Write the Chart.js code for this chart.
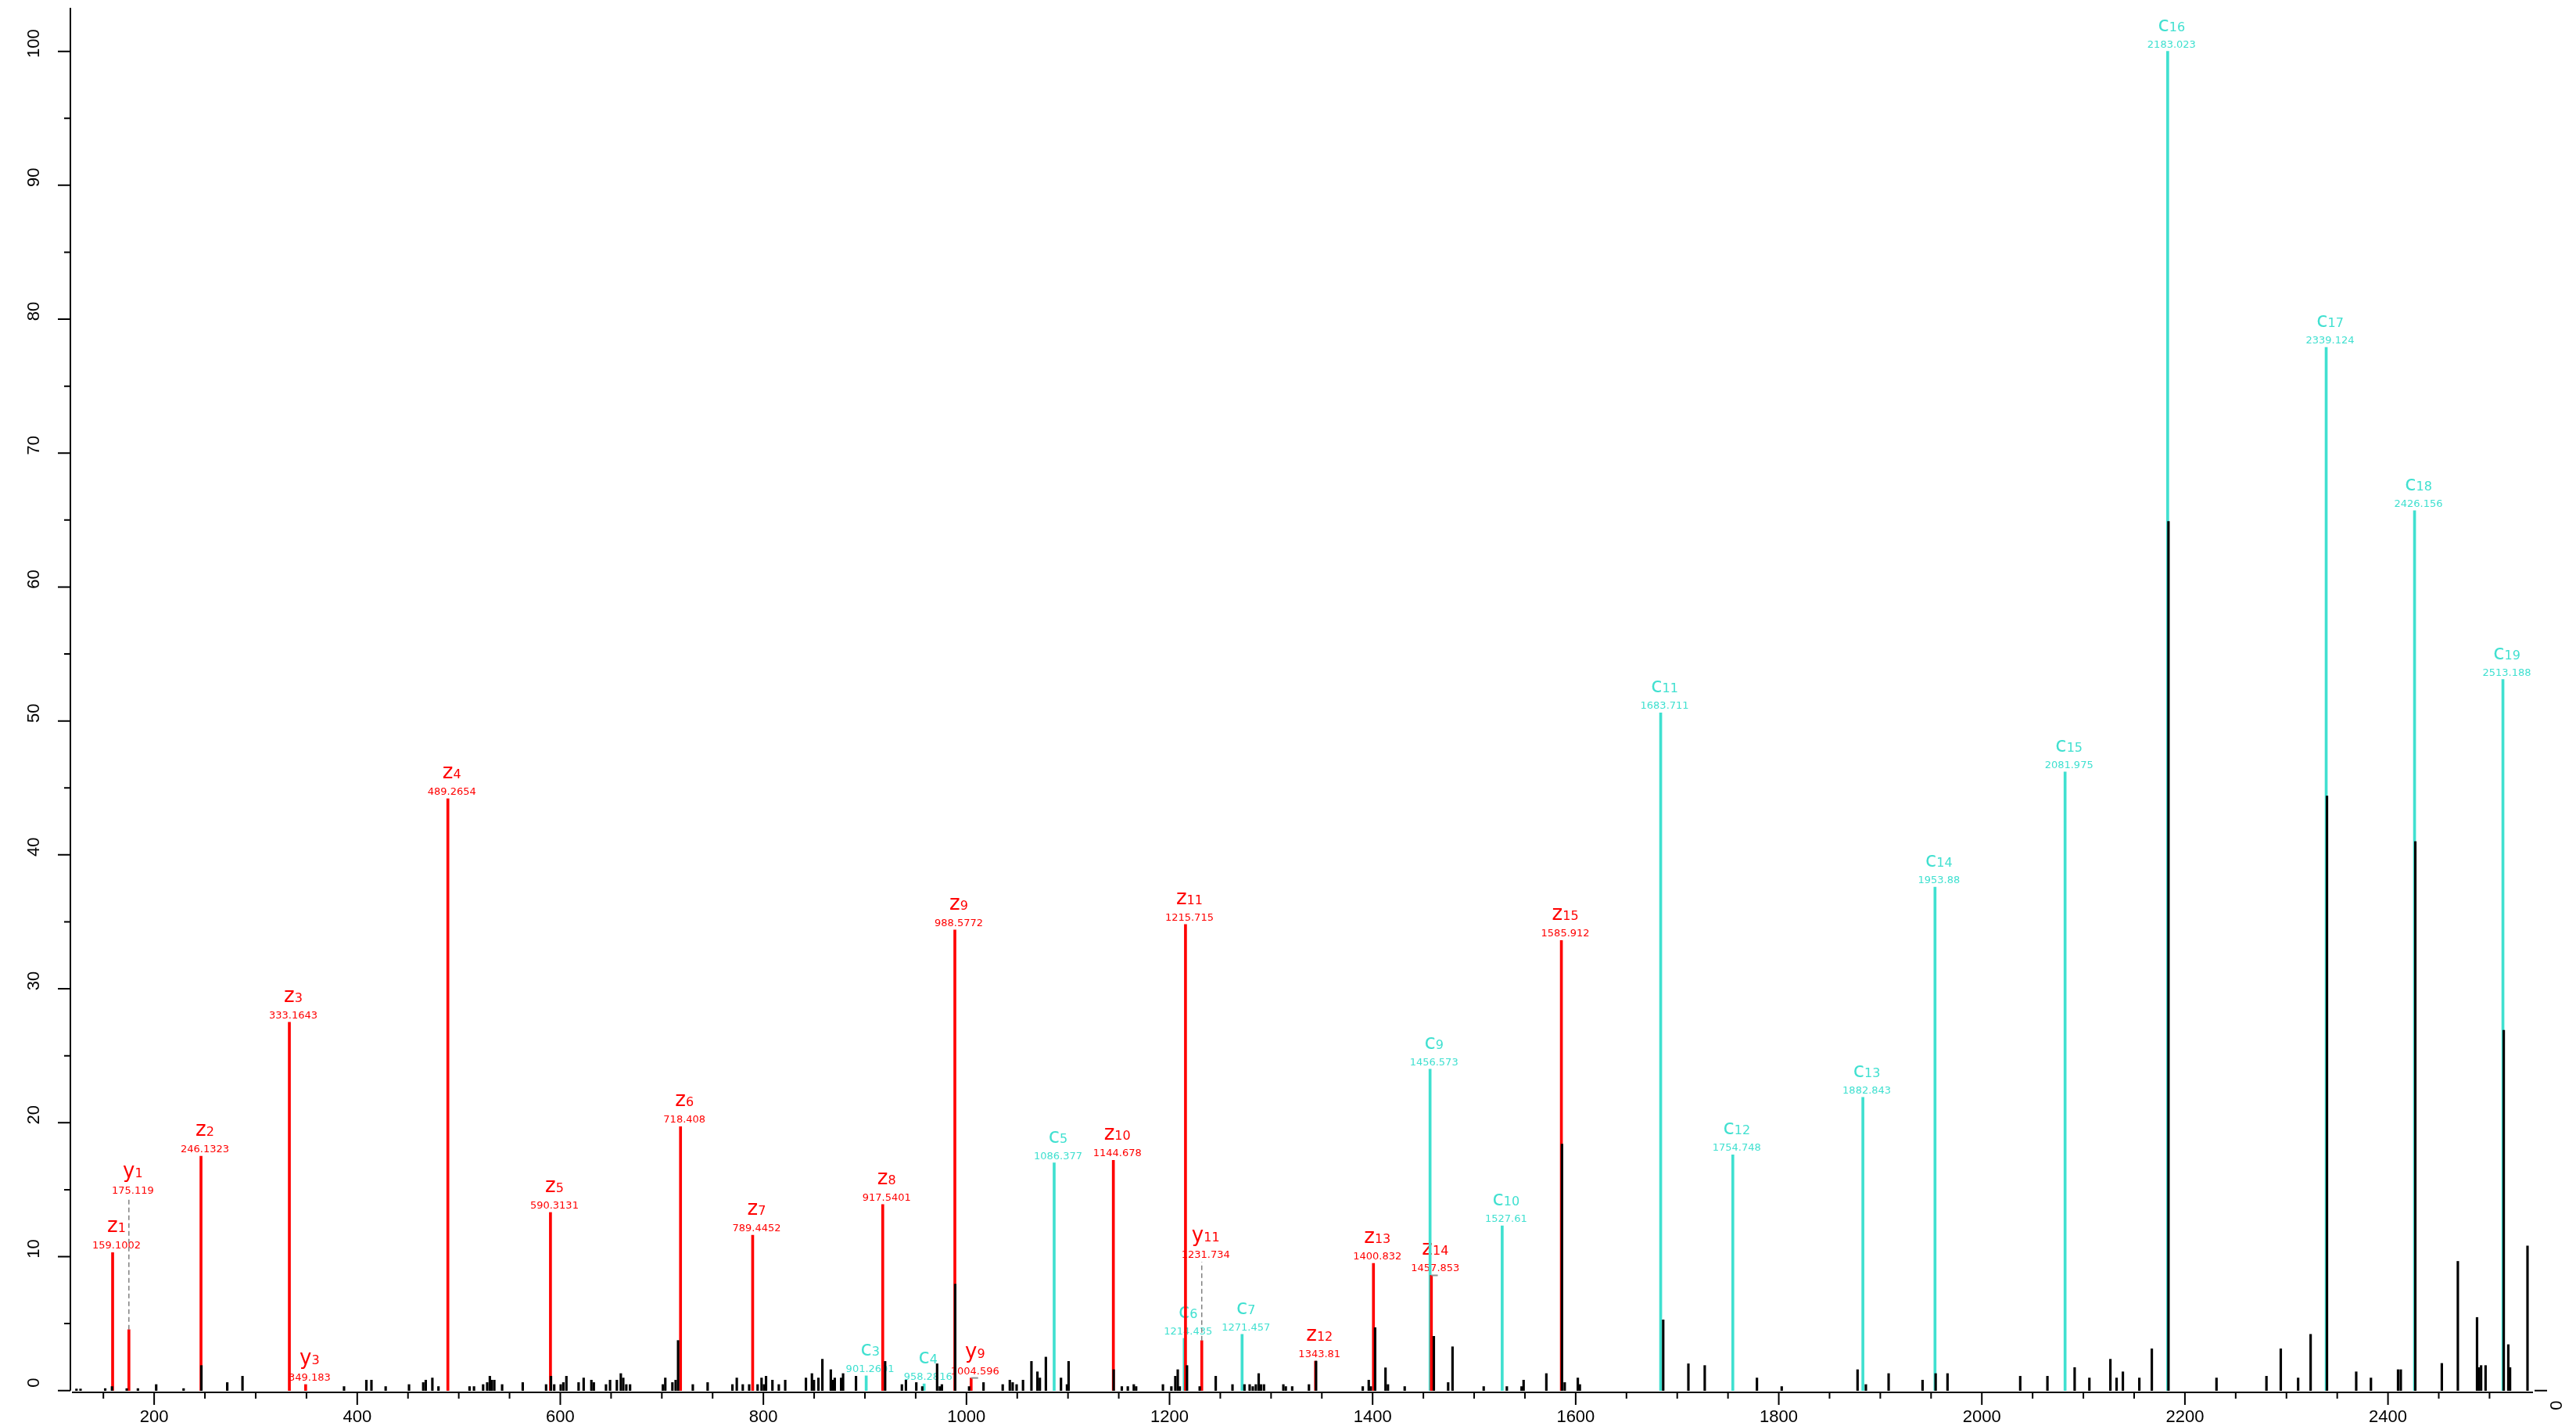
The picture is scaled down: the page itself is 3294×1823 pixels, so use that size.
<!DOCTYPE html>
<html>
<head>
<meta charset="utf-8">
<title>Annotated MS/MS spectrum</title>
<script src="https://cdn.jsdelivr.net/npm/chart.js@4.4.0/dist/chart.umd.min.js"></script>
<style>
  html, body { margin: 0; padding: 0; background: #fff; overflow: hidden; }
  canvas { display: block; }
</style>
</head>
<body>
<canvas id="spectrum" width="3294" height="1823"></canvas>
<script>
"use strict";

// z / y ions (red)
const zyNames = ["z1", "y1", "z2", "z3", "y3", "z4", "z5", "z6", "z7", "z8", "z9", "y9", "z10", "z11", "y11", "z12", "z13", "z14", "z15"];
const zyMz = [159.1002, 175.119, 246.1323, 333.1643, 349.183, 489.2654, 590.3131, 718.408, 789.4452, 917.5401, 988.5772, 1004.596, 1144.678, 1215.715, 1231.734, 1343.81, 1400.832, 1457.853, 1585.912];
const zyInt = [10.3, 4.55, 17.5, 27.5, 0.45, 44.2, 13.3, 19.7, 11.6, 13.9, 34.4, 0.94, 17.2, 34.8, 3.73, 2.2, 9.5, 8.6, 33.6];
const zyLabelY = [10.3, 14.4, 17.5, 27.5, 0.45, 44.2, 13.3, 19.7, 11.6, 13.9, 34.4, 0.94, 17.2, 34.8, 9.6, 2.2, 9.5, 8.6, 33.6];

// c ions (turquoise)
const cNames = ["c3", "c4", "c5", "c6", "c7", "c9", "c10", "c11", "c12", "c13", "c14", "c15", "c16", "c17", "c18", "c19"];
const cMz = [901.2601, 958.2816, 1086.377, 1214.435, 1271.457, 1456.573, 1527.61, 1683.711, 1754.748, 1882.843, 1953.88, 2081.975, 2183.023, 2339.124, 2426.156, 2513.188];
const cInt = [1.1, 0.5, 17.0, 3.9, 4.2, 24.0, 12.3, 50.6, 17.6, 21.9, 37.6, 46.2, 100, 77.9, 65.7, 53.1];

// unassigned / raw peaks (black)
const peakMz = [
  123.5, 127.5, 151.8, 158.5, 173, 184, 202, 229, 246.5, 272, 287, 387, 409, 414, 428, 451, 465, 467.5, 474, 480,
  510.6, 515, 524, 528, 530.6, 532.5, 535, 542.7, 563, 586, 590.8, 594, 600.4, 603, 606, 618, 623, 630.6, 633, 645,
  649, 655.7, 659.6, 662, 665, 668.7, 701, 703.4, 710.4, 713.6, 716, 730.5, 745.1, 769.5, 773.8, 779.7, 786, 794.3, 798.2, 800.6,
  802.6, 808.9, 815.2, 821.5, 841.9, 847.8, 849.8, 854.2, 858.1, 866.4, 868.3, 870.3, 876.6, 878.5, 891.2, 919.9, 936.4, 940.4, 950.6, 956.5,
  971.1, 973.8, 975.8, 988.9, 1002.6, 1016.8, 1035.7, 1042.7, 1045.5, 1049.4, 1055.7, 1064, 1069.9, 1072.3, 1078.2, 1093.1, 1099, 1100.6, 1145, 1153,
  1158.9, 1164.8, 1167.1, 1193.5, 1201.8, 1205.7, 1208.1, 1210.1, 1217.2, 1229.7, 1245.5, 1262, 1273.8, 1278.9, 1282, 1285, 1287.8, 1290, 1293, 1312.1,
  1314.5, 1320.8, 1337.3, 1344.3, 1390.3, 1396.2, 1398.2, 1402.5, 1412.7, 1415.1, 1431.6, 1460.3, 1474.4, 1478.7, 1509.4, 1532.2, 1546.7, 1548.7, 1571.1, 1586.5,
  1589.2, 1602.1, 1604.1, 1686.2, 1711, 1727.1, 1778.5, 1802.9, 1877.6, 1885.8, 1908.2, 1941.6, 1954.5, 1966.2, 2037.8, 2064.6, 2091.4, 2105.9, 2126.6, 2132.7,
  2138.9, 2155.1, 2167.4, 2183.8, 2231.1, 2280.3, 2294.4, 2311.5, 2323.8, 2339.9, 2368.7, 2383.2, 2409.9, 2412.6, 2426.9, 2453, 2468.8, 2487.7, 2489.5, 2491.7,
  2496.1, 2514, 2518.5, 2520.2, 2537.4
];
const peakInt = [
  0.12, 0.12, 0.15, 0.3, 0.15, 0.15, 0.45, 0.15, 1.87, 0.6, 1.07, 0.3, 0.78, 0.78, 0.3, 0.45, 0.6, 0.78, 0.94, 0.3,
  0.3, 0.3, 0.45, 0.6, 1.07, 0.78, 0.78, 0.45, 0.6, 0.45, 1.07, 0.45, 0.45, 0.6, 1.07, 0.6, 0.94, 0.78, 0.6, 0.45,
  0.78, 0.78, 1.27, 0.94, 0.45, 0.45, 0.45, 0.94, 0.6, 0.78, 3.74, 0.45, 0.6, 0.45, 0.94, 0.45, 0.45, 0.45, 0.94, 0.45,
  1.07, 0.78, 0.45, 0.78, 0.94, 1.27, 0.78, 0.94, 2.34, 1.56, 0.78, 0.94, 0.94, 1.27, 1.07, 2.18, 0.45, 0.78, 0.6, 0.3,
  2.0, 0.3, 0.45, 7.95, 0.3, 0.6, 0.45, 0.78, 0.6, 0.45, 0.78, 2.18, 1.4, 0.94, 2.5, 0.94, 0.45, 2.18, 1.56, 0.3,
  0.3, 0.45, 0.3, 0.45, 0.3, 1.07, 1.56, 0.3, 1.87, 0.3, 1.07, 0.45, 0.45, 0.45, 0.3, 0.45, 1.27, 0.45, 0.45, 0.45,
  0.3, 0.3, 0.45, 2.2, 0.3, 0.78, 0.3, 4.7, 1.7, 0.45, 0.3, 4.05, 0.6, 3.27, 0.3, 0.3, 0.3, 0.78, 1.27, 18.4,
  0.6, 0.94, 0.45, 5.28, 2.0, 1.87, 0.94, 0.3, 1.56, 0.45, 1.27, 0.78, 1.27, 1.27, 1.07, 1.07, 1.72, 0.94, 2.34, 0.94,
  1.4, 0.94, 3.12, 64.9, 0.94, 1.07, 3.12, 0.94, 4.2, 44.4, 1.4, 0.94, 1.56, 1.56, 41.0, 2.03, 9.65, 5.46, 1.72, 1.87,
  1.87, 26.9, 3.43, 1.72, 10.8
];

// dashed leaders from a lifted label down to its peak
const leaderMz = [175.119, 1231.734];
const leaderFrom = [4.55, 3.73];
const leaderTo = [14.4, 9.6];
// short grey stubs on top of two peaks
const stubMz = [1004.596, 1457.853];
const stubEnd = [1011.5, 1464.2];
const stubY = [0.94, 8.6];

const xTicks = [200, 400, 600, 800, 1000, 1200, 1400, 1600, 1800, 2000, 2200, 2400];
const xMinorTicks = [150, 250, 300, 350, 450, 500, 550, 650, 700, 750, 850, 900, 950, 1050, 1100, 1150, 1250, 1300, 1350,
  1450, 1500, 1550, 1650, 1700, 1750, 1850, 1900, 1950, 2050, 2100, 2150, 2250, 2300, 2350, 2450, 2500];
const yTicks = [0, 10, 20, 30, 40, 50, 60, 70, 80, 90, 100];
const yMinorTicks = [5, 15, 25, 35, 45, 55, 65, 75, 85, 95];

const RED = "#ff0000";
const CYAN = "#40e0d0";

function pts(xs, ys) {
  return xs.map((x, i) => ({ x: x, y: ys[i] }));
}

const lineSets = [];
for (let i = 0; i < leaderMz.length; i++) {
  lineSets.push({
    type: "line",
    data: [{ x: leaderMz[i], y: leaderFrom[i] }, { x: leaderMz[i], y: leaderTo[i] }],
    borderColor: "#808080",
    borderWidth: 1.5,
    borderDash: [6, 4],
    pointRadius: 0,
    order: 1
  });
}
for (let i = 0; i < stubMz.length; i++) {
  lineSets.push({
    type: "line",
    data: [{ x: stubMz[i], y: stubY[i] }, { x: stubEnd[i], y: stubY[i] }],
    borderColor: "#909090",
    borderWidth: 2,
    pointRadius: 0,
    order: 1
  });
}

// ion labels: letter + subscript index, m/z underneath
const ionLabels = {
  id: "ionLabels",
  beforeDatasetsDraw(chart) {
    const ctx = chart.ctx;
    const xs = chart.scales.x;
    const ys = chart.scales.y;
    const groups = [
      { names: zyNames, mz: zyMz, at: zyLabelY, color: RED },
      { names: cNames, mz: cMz, at: cInt, color: CYAN }
    ];
    ctx.save();
    ctx.textBaseline = "alphabetic";
    groups.forEach(g => {
      ctx.fillStyle = g.color;
      for (let i = 0; i < g.names.length; i++) {
        const px = xs.getPixelForValue(g.mz[i]) + 5;
        const py = ys.getPixelForValue(g.at[i]);
        ctx.font = '13px "DejaVu Sans"';
        ctx.textAlign = "center";
        ctx.fillText(String(g.mz[i]), px, py - 5);

        const letter = g.names[i].charAt(0);
        const sub = g.names[i].slice(1);
        ctx.font = '26px "DejaVu Sans"';
        const wl = ctx.measureText(letter).width;
        ctx.font = '16px "DejaVu Sans"';
        const ws = ctx.measureText(sub).width;
        const start = px - (wl + ws) / 2;
        ctx.textAlign = "left";
        ctx.font = '26px "DejaVu Sans"';
        ctx.fillText(letter, start, py - 26);
        ctx.font = '16px "DejaVu Sans"';
        ctx.fillText(sub, start + wl, py - 26);
      }
    });
    ctx.restore();
  }
};

// R style axes: long major ticks, short minor ticks, rotated y labels
const rAxes = {
  id: "rAxes",
  afterDraw(chart) {
    const ctx = chart.ctx;
    const xs = chart.scales.x;
    const ys = chart.scales.y;
    const area = chart.chartArea;
    const y0 = ys.getPixelForValue(0);
    ctx.save();
    ctx.strokeStyle = "#000";
    ctx.fillStyle = "#000";
    ctx.lineWidth = 2;

    ctx.beginPath();
    ctx.moveTo(area.left, area.top);
    ctx.lineTo(area.left, y0);
    ctx.moveTo(area.left + 2, area.bottom);
    ctx.lineTo(area.right, area.bottom);
    ctx.stroke();

    ctx.beginPath();
    yTicks.forEach(v => {
      const p = ys.getPixelForValue(v);
      ctx.moveTo(area.left - 16, p);
      ctx.lineTo(area.left, p);
    });
    yMinorTicks.forEach(v => {
      const p = ys.getPixelForValue(v);
      ctx.moveTo(area.left - 8, p);
      ctx.lineTo(area.left, p);
    });
    xTicks.forEach(v => {
      const p = xs.getPixelForValue(v);
      ctx.moveTo(p, area.bottom);
      ctx.lineTo(p, area.bottom + 16);
    });
    xMinorTicks.forEach(v => {
      const p = xs.getPixelForValue(v);
      ctx.moveTo(p, area.bottom);
      ctx.lineTo(p, area.bottom + 8);
    });
    // lone right-hand tick at zero
    ctx.moveTo(area.right + 2, y0);
    ctx.lineTo(area.right + 18, y0);
    ctx.stroke();

    ctx.textAlign = "center";
    ctx.textBaseline = "middle";
    ctx.font = '22px "Liberation Sans"';
    xTicks.forEach(v => {
      ctx.fillText(String(v), xs.getPixelForValue(v), area.bottom + 32);
    });

    ctx.font = '22px "Liberation Sans Narrow", "Liberation Sans"';
    yTicks.forEach(v => {
      ctx.save();
      ctx.translate(44, ys.getPixelForValue(v) - 10);
      ctx.rotate(-Math.PI / 2);
      ctx.fillText(String(v), 0, 0);
      ctx.restore();
    });

    ctx.save();
    ctx.translate(area.right + 31, y0 + 19);
    ctx.rotate(-Math.PI / 2);
    ctx.fillText("0", 0, 0);
    ctx.restore();

    ctx.restore();
  }
};

const spectrum = new Chart(document.getElementById("spectrum"), {
  type: "bar",
  data: {
    datasets: [
      {
        label: "peaks",
        data: pts(peakMz, peakInt),
        backgroundColor: "#000",
        barThickness: 2.5,
        grouped: false,
        order: 0
      },
      ...lineSets,
      {
        label: "z/y ions",
        data: pts(zyMz, zyInt),
        backgroundColor: RED,
        barThickness: 3,
        grouped: false,
        order: 2
      },
      {
        label: "c ions",
        data: pts(cMz, cInt),
        backgroundColor: CYAN,
        barThickness: 3,
        grouped: false,
        order: 3
      }
    ]
  },
  options: {
    responsive: false,
    animation: false,
    devicePixelRatio: 1,
    layout: { padding: { left: 90, right: 55, top: 10, bottom: 43 } },
    plugins: {
      legend: { display: false },
      tooltip: { enabled: false }
    },
    scales: {
      x: { type: "linear", min: 117.5, max: 2542.8, offset: false, display: false },
      y: { type: "linear", min: -0.135, max: 103.25, display: false }
    }
  },
  plugins: [ionLabels, rAxes]
});
</script>
</body>
</html>
